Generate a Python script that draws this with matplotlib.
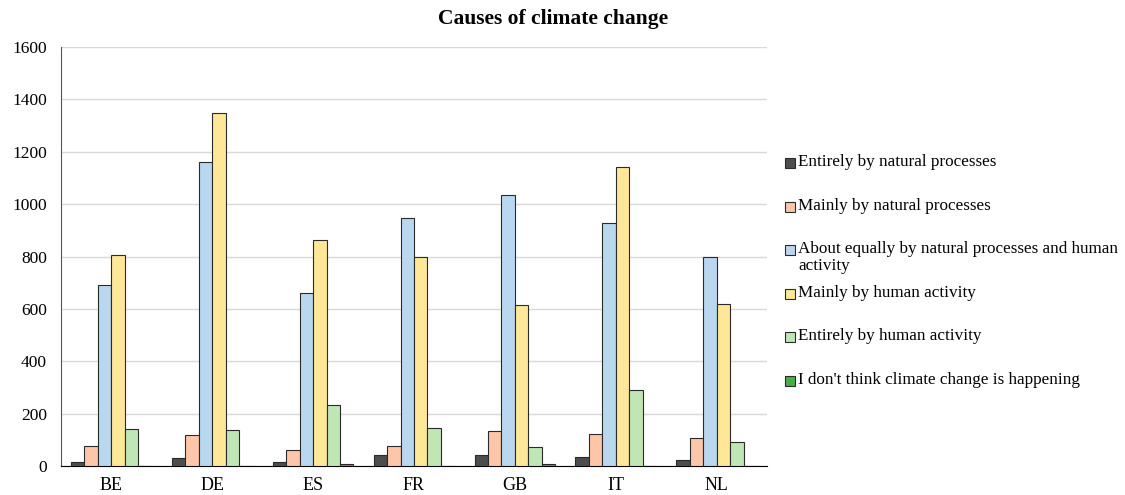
import numpy as np
import matplotlib.pyplot as plt
from matplotlib.patches import Rectangle

plt.rcParams['font.family'] = ['Liberation Serif', 'DejaVu Serif']

countries = ['BE', 'DE', 'ES', 'FR', 'GB', 'IT', 'NL']
labels = [
    'Entirely by natural processes',
    'Mainly by natural processes',
    'About equally by natural processes and human\nactivity',
    'Mainly by human activity',
    'Entirely by human activity',
    "I don't think climate change is happening",
]
entirely_natural = [18, 30, 18, 42, 42, 35, 25]
mainly_natural = [78, 118, 62, 78, 135, 122, 107]
about_equal = [693, 1160, 662, 948, 1035, 930, 798]
mainly_human = [808, 1350, 865, 800, 615, 1143, 620]
entirely_human = [143, 140, 233, 146, 75, 290, 93]
not_happening = [3, 3, 8, 3, 8, 3, 3]

series = [entirely_natural, mainly_natural, about_equal,
          mainly_human, entirely_human, not_happening]
colors = ['#4d4d4d', '#fdc6a8', '#bad7f0', '#fee797', '#c1e6b5', '#4bad47']
edge = '#2a2a2a'

W, H = 1125, 495
fig = plt.figure(figsize=(W / 100, H / 100), dpi=100)
ax = fig.add_axes([0.054, 0.058, 0.628, 0.847])

x = np.arange(len(countries))
w = 0.8 / len(series)
for i, (vals, c) in enumerate(zip(series, colors)):
    ax.bar(x - 0.4 + w * (i + 0.5), vals, w, color=c, edgecolor=edge,
           linewidth=0.8, zorder=3)

ax.set_ylim(0, 1600)
ax.set_yticks(np.arange(0, 1601, 200))
ax.set_xlim(-0.5, len(countries) - 0.5)
ax.set_xticks(x)
ax.set_xticklabels(countries)
ax.tick_params(axis='y', length=0, labelsize=12.5, pad=10)
ax.tick_params(axis='x', length=0, labelsize=13, pad=8)
ax.grid(axis='y', color='#d9d9d9', linewidth=1, zorder=0)
for s in ['top', 'right']:
    ax.spines[s].set_visible(False)
ax.spines['left'].set_color('#555555')
ax.spines['bottom'].set_color('#000000')

fig.text(553 / W, 1 - 19 / H, 'Causes of climate change', fontsize=15.5,
         fontweight='bold', ha='center', va='center')

# legend: evenly spaced entries on the right, Excel style
for i, (c, lab) in enumerate(zip(colors, labels)):
    yc = 163 + 43.6 * i
    fig.patches.append(Rectangle((785 / W, 1 - (yc + 5) / H), 10 / W, 10 / H,
                                 transform=fig.transFigure, facecolor=c,
                                 edgecolor=edge, linewidth=0.8))
    fig.text(798 / W, 1 - (yc - 9) / H, lab, fontsize=12.3, ha='left',
             va='top', linespacing=1.05)

fig.savefig('out.png', dpi=100)
